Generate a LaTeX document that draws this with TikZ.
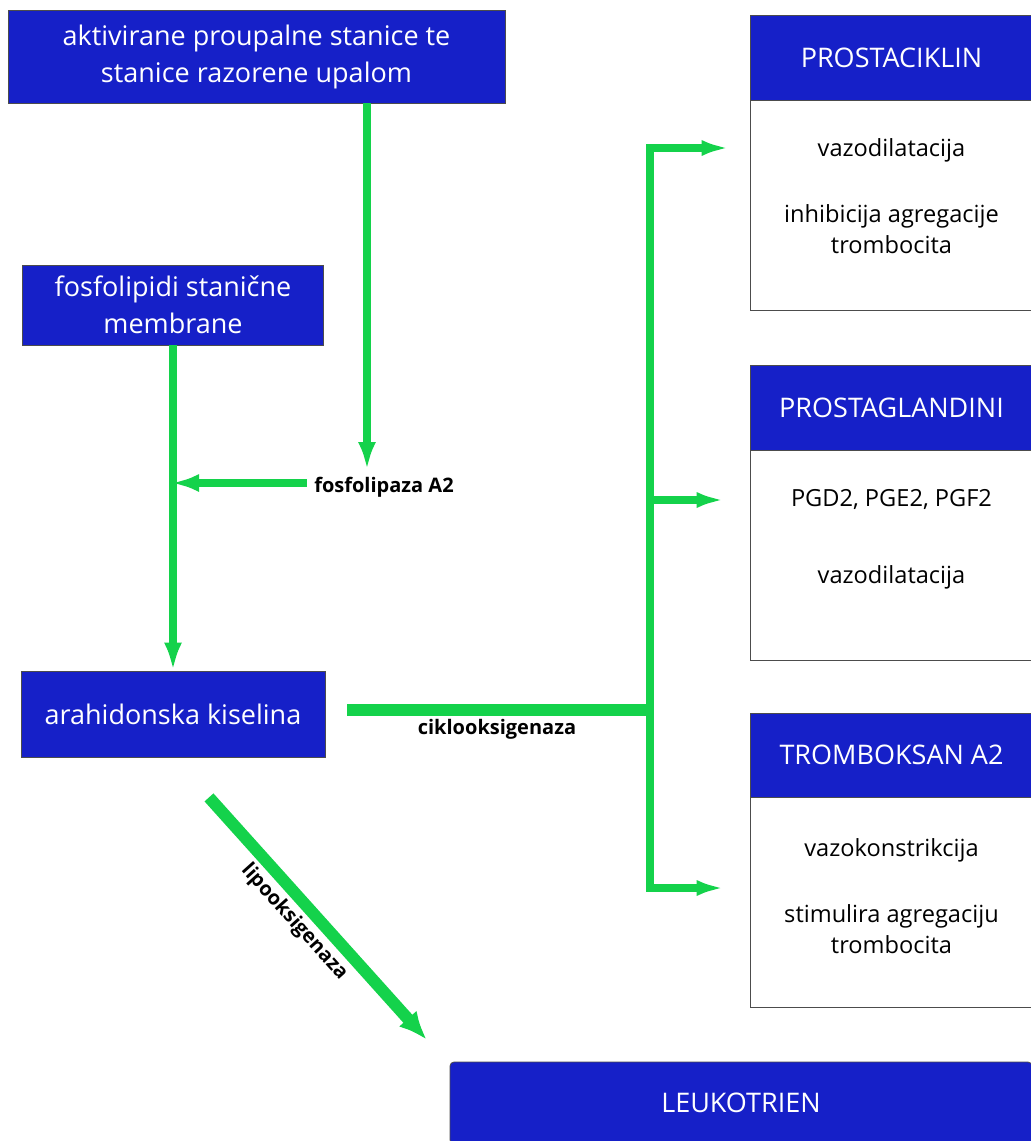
\documentclass[tikz,border=0pt]{standalone}
\usepackage{fontspec}
\setmainfont{Open Sans}
\usetikzlibrary{arrows.meta,positioning}
\definecolor{plava}{RGB}{22,32,200}
\definecolor{zelena}{RGB}{20,210,75}

\begin{document}
\begin{tikzpicture}[x=0.5pt, y=-0.5pt,
    every node/.style={inner sep=0pt, align=center},
    plavi/.style={draw=black!70, fill=plava, text=white, font=\fontsize{13.5}{18.5}\selectfont},
    bijeli/.style={draw=black!70, fill=white, minimum width=141.5pt, minimum height=105pt},
    tekst/.style={font=\fontsize{11.8}{15.5}\selectfont},
    enzim/.style={font=\bfseries\fontsize{10}{12}\selectfont},
    tok/.style={draw=zelena, line width=4pt, -{Latex[length=14pt,width=9pt]}},
    grana/.style={draw=zelena, line width=4pt, line join=miter, -{Latex[length=14pt,width=8pt]}},
    debeli/.style={draw=zelena, line width=6pt}]
  \clip (0,0) rectangle (1031,1141);

  % Lijevi stupac
  \node (aktiv) at (256.5,56.5) [plavi, minimum width=248.5pt, minimum height=46.5pt] {aktivirane proupalne stanice te\\stanice razorene upalom};
  \node (membr) at (173,305) [plavi, minimum width=150.5pt, minimum height=40pt] {fosfolipidi stanične\\membrane};
  \node (arah) at (173,714) [plavi, minimum width=152pt, minimum height=43pt] {arahidonska kiselina};
  \node (fosfo) at (384,487) [enzim] {fosfolipaza A2};

  % Desni stupac
  \node (pchead) at (891.5,57.5) [plavi, minimum width=141.5pt, minimum height=42.5pt] {PROSTACIKLIN};
  \node (pcbody) [bijeli, below=0pt of pchead, label={[tekst, yshift=5pt]center:vazodilatacija\\[17.5pt]inhibicija agregacije\\trombocita}] {};
  \node (pghead) at (891.5,407.5) [plavi, minimum width=141.5pt, minimum height=42.5pt] {PROSTAGLANDINI};
  \node (pgbody) [bijeli, below=0pt of pghead, label={[tekst, yshift=8.5pt]center:PGD2, PGE2, PGF2\\[23pt]vazodilatacija}] {};
  \node (tbhead) at (891.5,755) [plavi, minimum width=141.5pt, minimum height=42pt] {TROMBOKSAN A2};
  \node (tbbody) [bijeli, below=0pt of tbhead, label={[tekst, yshift=3.5pt]center:vazokonstrikcija\\[17.5pt]stimulira agregaciju\\trombocita}] {};
  \node (leuko) at (741,1103) [plavi, rounded corners=2pt, minimum width=291pt, minimum height=41pt] {LEUKOTRIEN};

  % Tocke grananja
  \coordinate (enz) at (367,470);
  \coordinate (cox) at (650,710);
  \coordinate (g1) at (650,148);
  \coordinate (g2) at (650,500);
  \coordinate (g3) at (650,888);

  % Strelice
  \draw[tok] (aktiv.south -| enz) -- (enz);
  \draw[tok, shorten <=3.5pt, shorten >=-1pt] (fosfo.west |- 0,483) -- (membr.south |- 0,483);
  \draw[tok] (membr.south) -- (arah.north);
  \draw[debeli, shorten <=11pt] (arah.east |- cox) -- (cox);
  \node (cikl) at (497,729) [enzim] {ciklooksigenaza};
  \draw[grana, shorten >=10pt] (cox) -- (g1) -- (pcbody.west |- g1);
  \draw[grana, shorten >=12.5pt] (g2) -- (pgbody.west |- g2);
  \draw[grana, shorten >=12.5pt] (cox) -- (g3) -- (tbbody.west |- g3);
  \draw[debeli, -{Latex[length=14pt,width=12pt]}] ([shift={(36,40)}]arah.south) -- ([shift={(-23,-22)}]leuko.north west)
    node[enzim, sloped, pos=0.46, below=2pt] (lipo) {lipooksigenaza};
\end{tikzpicture}
\end{document}
